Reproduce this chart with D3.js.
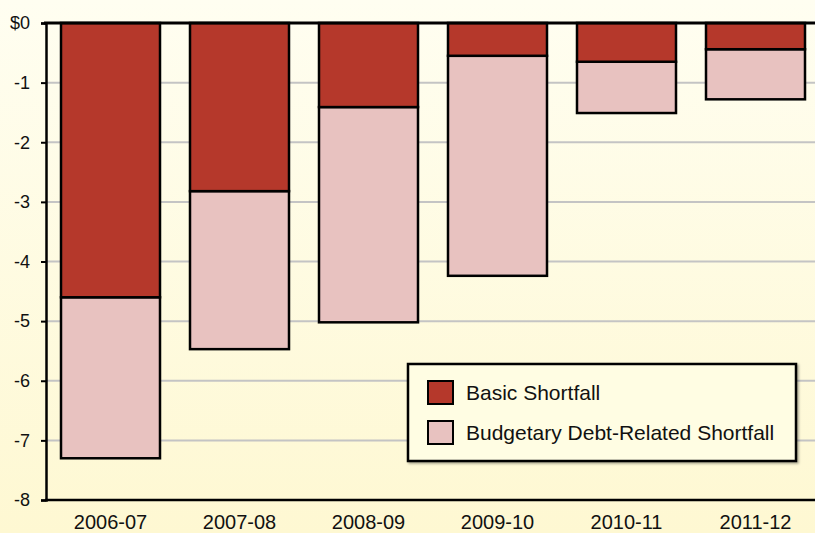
<!DOCTYPE html>
<html>
<head>
<meta charset="utf-8">
<script src="https://cdn.jsdelivr.net/npm/d3@7"></script>
<style>
  html, body { margin: 0; padding: 0; }
  body { width: 815px; height: 533px; overflow: hidden; font-family: "Liberation Sans", Arial, sans-serif; }
</style>
</head>
<body>
<svg id="chart" width="815" height="533"></svg>
<script>
// Shortfall by fiscal year (billions)
const years = ['2006-07', '2007-08', '2008-09', '2009-10', '2010-11', '2011-12'];
const basicShortfall = [-4.6, -2.82, -1.41, -0.55, -0.65, -0.44];
const totalShortfall = [-7.3, -5.47, -5.02, -4.24, -1.51, -1.28];
const yTicks = [0, -1, -2, -3, -4, -5, -6, -7, -8];
const seriesNames = ['Basic Shortfall', 'Budgetary Debt-Related Shortfall'];
const seriesColors = ['#b5382b', '#e8c2c0'];

const svg = d3.select('#chart');
const FONT = '"Liberation Sans", Arial, sans-serif';

// background gradient
const defs = svg.append('defs');
const grad = defs.append('linearGradient').attr('id', 'bg').attr('x1', 0).attr('y1', 0).attr('x2', 0).attr('y2', 1);
grad.append('stop').attr('offset', '0%').attr('stop-color', '#fffef1');
grad.append('stop').attr('offset', '100%').attr('stop-color', '#fef8d2');
const shadow = defs.append('filter').attr('id', 'shadow').attr('x', '-10%').attr('y', '-10%').attr('width', '130%').attr('height', '130%');
shadow.append('feDropShadow').attr('dx', 1.5).attr('dy', 1.5).attr('stdDeviation', 1).attr('flood-color', '#000').attr('flood-opacity', 0.35);

svg.append('rect').attr('width', 815).attr('height', 533).attr('fill', 'url(#bg)');

const x = d3.scaleBand()
  .domain(years)
  .range([46, 820])
  .paddingInner(30 / 129)
  .paddingOuter(15 / 129);

const y = d3.scaleLinear().domain([-8, 0]).range([500, 23]);

// gridlines
svg.append('g')
  .selectAll('line')
  .data(yTicks.filter(d => d !== 0 && d !== -8))
  .enter().append('line')
  .attr('x1', 46).attr('x2', 815)
  .attr('y1', d => y(d)).attr('y2', d => y(d))
  .attr('stroke', '#c4c4c4').attr('stroke-width', 2);

// bars: debt-related part (below basic)
const bars = svg.append('g');
bars.selectAll('rect.debt')
  .data(years)
  .enter().append('rect')
  .attr('class', 'debt')
  .attr('x', d => x(d))
  .attr('width', x.bandwidth())
  .attr('y', (d, i) => y(basicShortfall[i]))
  .attr('height', (d, i) => y(totalShortfall[i]) - y(basicShortfall[i]))
  .attr('fill', seriesColors[1])
  .attr('stroke', '#000').attr('stroke-width', 2.5);

bars.selectAll('rect.basic')
  .data(years)
  .enter().append('rect')
  .attr('class', 'basic')
  .attr('x', d => x(d))
  .attr('width', x.bandwidth())
  .attr('y', y(0))
  .attr('height', (d, i) => y(basicShortfall[i]) - y(0))
  .attr('fill', seriesColors[0])
  .attr('stroke', '#000').attr('stroke-width', 2.5);

// y axis
const yAxis = svg.append('g')
  .attr('transform', 'translate(46,0)')
  .call(d3.axisLeft(y).tickValues(yTicks).tickSize(5).tickPadding(11)
    .tickFormat(d => d === 0 ? '$0' : String(d)));
yAxis.select('.domain').attr('stroke', '#000').attr('stroke-width', 2.5);
yAxis.selectAll('.tick line').attr('stroke', '#000').attr('stroke-width', 2);
yAxis.selectAll('.tick text')
  .attr('font-family', FONT)
  .attr('font-size', 18).attr('fill', '#111');

// top zero line and bottom baseline
svg.append('line').attr('x1', 44).attr('x2', 815).attr('y1', y(0)).attr('y2', y(0))
  .attr('stroke', '#000').attr('stroke-width', 3);
svg.append('line').attr('x1', 45).attr('x2', 815).attr('y1', y(-8)).attr('y2', y(-8))
  .attr('stroke', '#000').attr('stroke-width', 2.5);

// x axis labels
const xAxis = svg.append('g')
  .attr('transform', `translate(0,${y(-8)})`)
  .call(d3.axisBottom(x).tickSize(0).tickPadding(15));
xAxis.select('.domain').remove();
xAxis.selectAll('.tick text')
  .attr('font-family', FONT)
  .attr('font-size', 20).attr('fill', '#111');

// legend
const legend = svg.append('g').attr('transform', 'translate(408,364)');
legend.append('rect')
  .attr('width', 388).attr('height', 97)
  .attr('fill', '#fffde3').attr('stroke', '#000').attr('stroke-width', 2.5)
  .attr('filter', 'url(#shadow)');
const items = legend.selectAll('g.item')
  .data(seriesNames)
  .enter().append('g')
  .attr('class', 'item')
  .attr('transform', (d, i) => `translate(20,${17 + i * 40})`);
items.append('rect')
  .attr('width', 25).attr('height', 23)
  .attr('fill', (d, i) => seriesColors[i])
  .attr('stroke', '#000').attr('stroke-width', 2);
items.append('text')
  .attr('x', 38).attr('y', 19)
  .attr('font-family', FONT)
  .attr('font-size', 21).attr('fill', '#111')
  .text(d => d);
</script>
</body>
</html>
